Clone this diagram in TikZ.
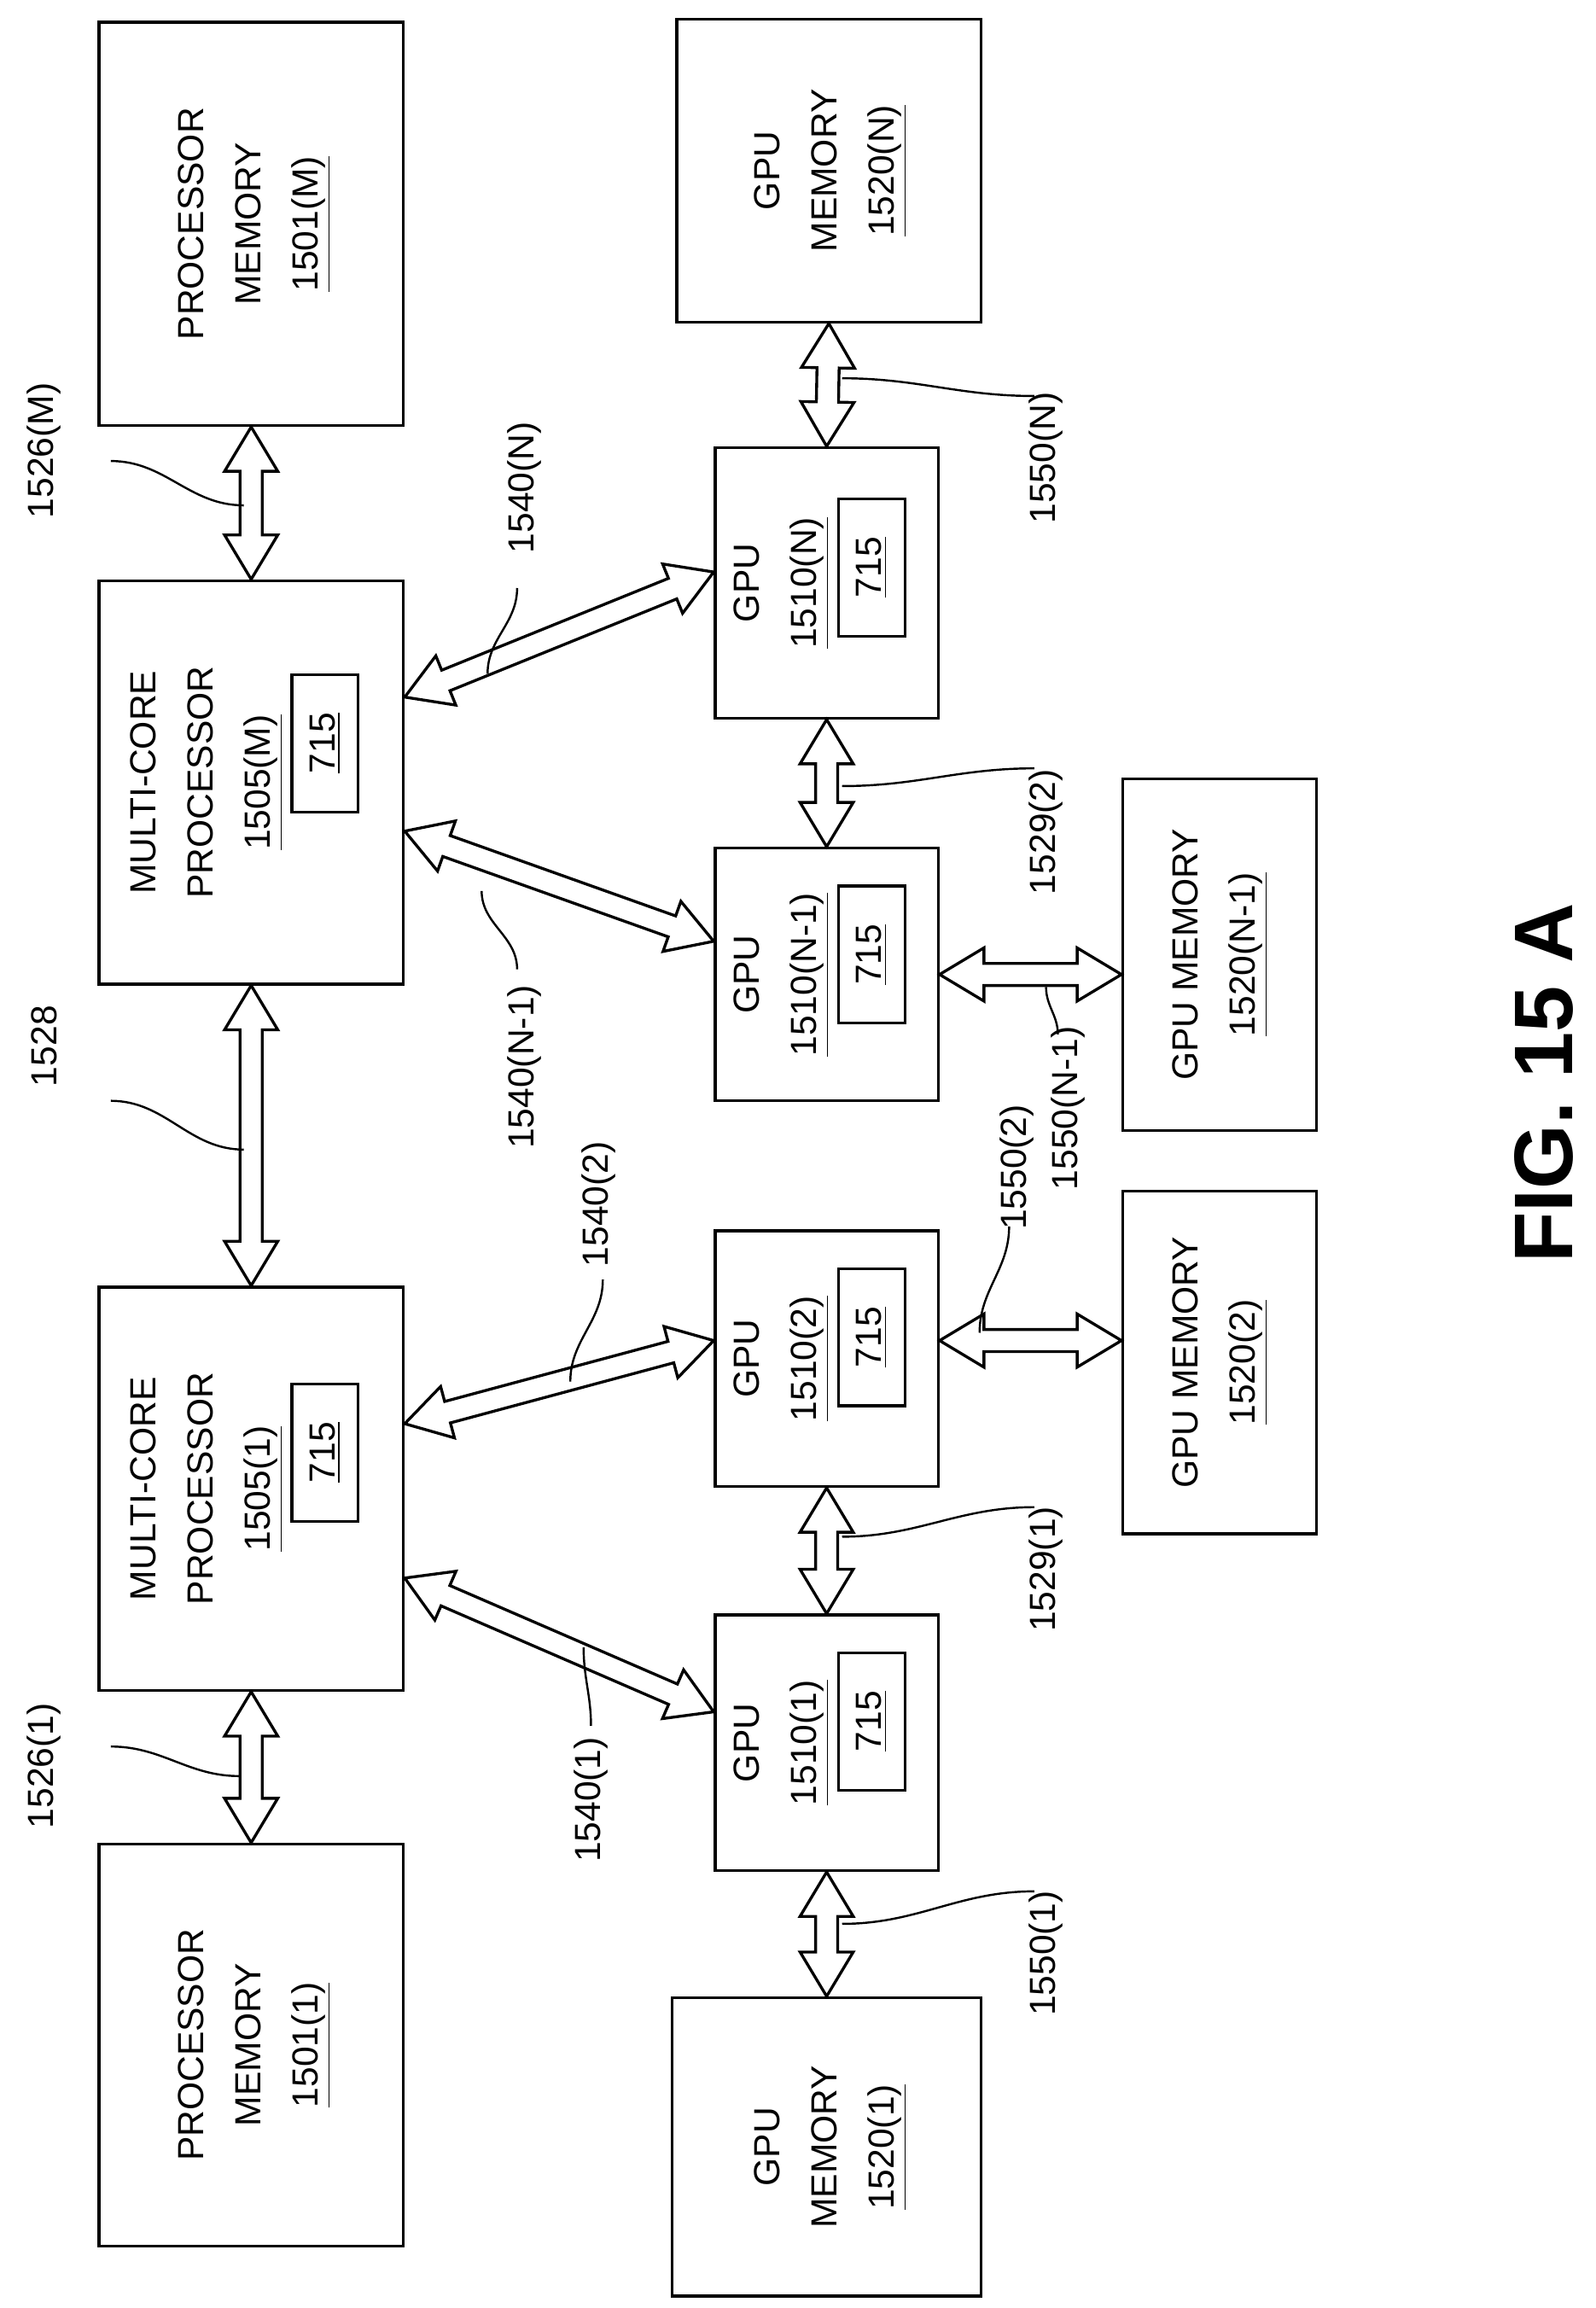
\documentclass[tikz,border=0pt]{standalone}
\usepackage{fontspec}
\setmainfont{Liberation Sans}
\usetikzlibrary{calc}

\tikzset{
  box/.style = {draw, line width=1.1pt, inner sep=0pt},
  inbox/.style = {draw, line width=1.1pt, rotate=90, minimum width=1.86cm, minimum height=0.9cm, inner sep=0pt, font=\fontsize{14}{17}\selectfont},
  txt/.style = {rotate=90, align=center, font=\fontsize{14}{22}\selectfont},
  lbl/.style = {rotate=90, font=\fontsize{14}{17}\selectfont},
  bus/.style = {draw, line width=1.1pt, fill=white, line join=miter},
  lead/.style = {line width=0.8pt}
}

\def\hlen{0.6cm}
\def\hw{0.36cm}
\def\sw{0.15cm}

% hollow two-headed bus arrow between two points
\newcommand\busarrow[2]{%
  \coordinate (ba1) at ($(#1)!\hlen!(#2)$);
  \coordinate (ba2) at ($(#2)!\hlen!(#1)$);
  \path[bus] (#1) -- ($(ba1)!\hw!90:(#2)$) -- ($(ba1)!\sw!90:(#2)$)
    -- ($(ba2)!\sw!-90:(#1)$) -- ($(ba2)!\hw!-90:(#1)$) -- (#2)
    -- ($(ba2)!\hw!90:(#1)$) -- ($(ba2)!\sw!90:(#1)$)
    -- ($(ba1)!\sw!-90:(#2)$) -- ($(ba1)!\hw!-90:(#2)$) -- cycle;
}

\begin{document}
\begin{tikzpicture}[x=0.02cm, y=-0.02cm]
  \useasboundingbox (0,0) rectangle (1080,1562);

  % processor side
  \node[box, minimum width=4.12cm, minimum height=5.46cm] (pmM) at (170,151.5) {};
  \node[txt] at (172,151.5) {PROCESSOR\\MEMORY\\\underline{1501(M)}};
  \node[box, minimum width=4.12cm, minimum height=5.46cm] (mcM) at (170,529.5) {};
  \node[txt] at (140,529.5) {MULTI-CORE\\PROCESSOR\\\underline{1505(M)}};
  \node[inbox] (iM) at (220,503) {\underline{715}};
  \node[box, minimum width=4.12cm, minimum height=5.46cm] (mc1) at (170,1007.5) {};
  \node[txt] at (140,1007.5) {MULTI-CORE\\PROCESSOR\\\underline{1505(1)}};
  \node[inbox] (i1) at (220,983) {\underline{715}};
  \node[box, minimum width=4.12cm, minimum height=5.44cm] (pm1) at (170,1384) {};
  \node[txt] at (172,1384) {PROCESSOR\\MEMORY\\\underline{1501(1)}};

  % gpu side
  \node[box, minimum width=4.12cm, minimum height=4.1cm] (gmN) at (561,115.5) {};
  \node[txt] at (562,115.5) {GPU\\MEMORY\\\underline{1520(N)}};
  \node[box, minimum width=3.02cm, minimum height=3.66cm] (gN) at (559.5,394.5) {};
  \node[txt] at (529,394.5) {GPU\\\underline{1510(N)}};
  \node[inbox] at (590,384) {\underline{715}};
  \node[box, minimum width=3.02cm, minimum height=3.42cm] (gN1) at (559.5,659.5) {};
  \node[txt] at (529,659.5) {GPU\\\underline{1510(N-1)}};
  \node[inbox] at (590,646) {\underline{715}};
  \node[box, minimum width=2.62cm, minimum height=4.76cm] (gmN1) at (825.5,646) {};
  \node[txt] at (826,646) {GPU MEMORY\\\underline{1520(N-1)}};
  \node[box, minimum width=3.02cm, minimum height=3.46cm] (g2) at (559.5,919.5) {};
  \node[txt] at (529,919.5) {GPU\\\underline{1510(2)}};
  \node[inbox] at (590,905) {\underline{715}};
  \node[box, minimum width=2.62cm, minimum height=4.64cm] (gm2) at (825.5,922) {};
  \node[txt] at (826,922) {GPU MEMORY\\\underline{1520(2)}};
  \node[box, minimum width=3.02cm, minimum height=3.46cm] (g1) at (559.5,1179.5) {};
  \node[txt] at (529,1179.5) {GPU\\\underline{1510(1)}};
  \node[inbox] at (590,1165) {\underline{715}};
  \node[box, minimum width=4.18cm, minimum height=4.04cm] (gm1) at (559.5,1453) {};
  \node[txt] at (562,1453) {GPU\\MEMORY\\\underline{1520(1)}};

  % buses
  \busarrow{pmM.south}{mcM.north}
  \busarrow{mcM.south}{mc1.north}
  \busarrow{mc1.south}{pm1.north}
  \busarrow{$(mcM.north east)!0.29!(mcM.south east)$}{$(gN.north west)!0.46!(gN.south west)$}
  \busarrow{$(mcM.north east)!0.62!(mcM.south east)$}{$(gN1.north west)!0.37!(gN1.south west)$}
  \busarrow{$(mc1.north east)!0.34!(mc1.south east)$}{$(g2.north west)!0.43!(g2.south west)$}
  \busarrow{$(mc1.north east)!0.72!(mc1.south east)$}{$(g1.north west)!0.38!(g1.south west)$}
  \busarrow{gmN.south}{gN.north}
  \busarrow{gN.south}{gN1.north}
  \busarrow{g2.south}{g1.north}
  \busarrow{g1.south}{gm1.north}
  \coordinate (eN1) at (gN1.east);
  \busarrow{eN1}{eN1 -| gmN1.west}
  \coordinate (e2) at ($(g2.north east)!0.43!(g2.south east)$);
  \busarrow{e2}{e2 -| gm2.west}

  % reference labels
  \node[lbl] (l1526M) at (30,305) {1526(M)};
  \draw[lead] (75,312) to[out=0,in=180] (165,342);
  \node[lbl] (l1528) at (30,708) {1528};
  \draw[lead] (75,745) to[out=0,in=180] (165,778);
  \node[lbl] (l15261) at (30,1195) {1526(1)};
  \draw[lead] (75,1182) to[out=0,in=180] (162,1202);
  \node[lbl] (l1540N) at (355,330) {1540(N)};
  \draw[lead] (350,398) to[out=-90,in=90] (330,456);
  \node[lbl] (l1540N1) at (355,722) {1540(N-1)};
  \draw[lead] (350,656) to[out=90,in=-90] (326,603);
  \node[lbl] (l15402) at (405,815) {1540(2)};
  \draw[lead] (408,866) to[out=-90,in=90] (386,935);
  \node[lbl] (l15401) at (400,1218) {1540(1)};
  \draw[lead] (400,1168) to[out=90,in=-90] (395,1115);
  \node[lbl] (l1550N) at (708,310) {1550(N)};
  \draw[lead] (700,268) to[out=180,in=0] (570,256);
  \node[lbl] (l15292) at (708,563) {1529(2)};
  \draw[lead] (700,520) to[out=180,in=0] (570,532);
  \node[lbl] (l1550N1) at (723,750) {1550(N-1)};
  \draw[lead] (716,700) to[out=90,in=-90] (708,668);
  \node[lbl] (l15502) at (688,790) {1550(2)};
  \draw[lead] (683,830) to[out=-90,in=90] (663,902);
  \node[lbl] (l15291) at (708,1062) {1529(1)};
  \draw[lead] (700,1020) to[out=180,in=0] (570,1040);
  \node[lbl] (l15501) at (708,1322) {1550(1)};
  \draw[lead] (700,1280) to[out=180,in=0] (570,1302);

  \node[rotate=90, font=\bfseries\fontsize{32}{36}\selectfont] (fig) at (1045,733) {FIG. 15 A};
\end{tikzpicture}
\end{document}
